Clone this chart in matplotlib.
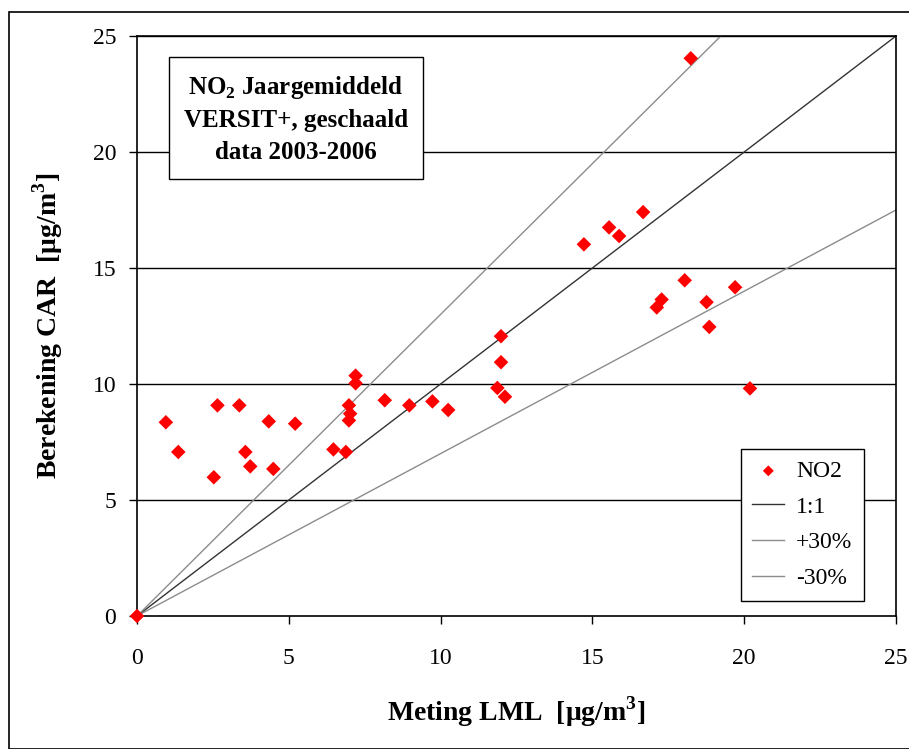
import numpy as np
import matplotlib
matplotlib.use("Agg")
import matplotlib.pyplot as plt
from matplotlib.patches import Rectangle

plt.rcParams["font.family"] = ["Liberation Serif", "DejaVu Serif"]
plt.rcParams["mathtext.fontset"] = "custom"
plt.rcParams["mathtext.rm"] = "Liberation Serif"
plt.rcParams["mathtext.bf"] = "Liberation Serif:bold"

# measured (LML) vs computed (CAR) annual mean NO2, ug/m3
meting = [0.0, 0.95, 1.36, 2.65, 2.53, 3.37, 3.57, 3.73, 4.34, 4.49, 5.21,
          6.47, 6.88, 6.98, 7.02, 6.98, 7.20, 7.20, 8.16, 8.97, 9.73, 10.25,
          11.99, 11.99, 11.87, 12.12, 14.72, 15.55, 15.88, 16.67, 18.24,
          18.04, 17.28, 17.12, 18.76, 19.70, 18.85, 20.19]
berekening = [0.0, 8.35, 7.07, 9.08, 5.98, 9.08, 7.07, 6.45, 8.39, 6.34, 8.29,
              7.18, 7.07, 9.08, 8.72, 8.43, 10.36, 10.03, 9.30, 9.08, 9.25, 8.88,
              12.06, 10.94, 9.83, 9.45, 16.02, 16.75, 16.38, 17.41, 24.04,
              14.47, 13.64, 13.30, 13.53, 14.17, 12.46, 9.81]

ref_x = [0, 25]
factors = {"1:1": 1.0, "+30%": 1.3, "-30%": 0.7}
ticks = [0, 5, 10, 15, 20, 25]

fig = plt.figure(figsize=(9.09, 7.49), dpi=100)
fig.patches.append(Rectangle((9 / 909, 0), 1.0, 1 - 12 / 749, transform=fig.transFigure,
                             fill=False, edgecolor="black", linewidth=1.2))

ax = fig.add_axes([137 / 909, 1 - 616 / 749, (896 - 137) / 909, (616 - 36) / 749])

for y in ticks[1:]:
    ax.axhline(y, color="black", linewidth=1.0, zorder=1)

ax.scatter(meting, berekening, marker="D", s=55, color="red", edgecolors="none",
           zorder=4, label="NO2", clip_on=False)
ax.plot(ref_x, [factors["1:1"] * v for v in ref_x], color="#333333", linewidth=1.0,
        zorder=2, label="1:1")
ax.plot(ref_x, [factors["+30%"] * v for v in ref_x], color="#8c8c8c", linewidth=1.0,
        zorder=2, label="+30%")
ax.plot(ref_x, [factors["-30%"] * v for v in ref_x], color="#8c8c8c", linewidth=1.0,
        zorder=2, label="-30%")

ax.set_xlim(0, 25)
ax.set_ylim(0, 25)
ax.set_xticks(ticks)
ax.set_yticks(ticks)
ax.tick_params(direction="out", length=6, width=1, labelsize=17)
ax.tick_params(axis="x", pad=17)
ax.tick_params(axis="y", pad=9)
for s in ax.spines.values():
    s.set_linewidth(1.2)

ax.set_xlabel("Meting LML  [\u03bcg/m$^\\mathbf{3}$]", fontsize=20, fontweight="bold", labelpad=18)
ax.set_ylabel("Berekening CAR  [\u03bcg/m$^\\mathbf{3}$]", fontsize=20, fontweight="bold", labelpad=20)

ax.text(0.209, 0.857, "NO$_\\mathbf{2}$ Jaargemiddeld\nVERSIT+, geschaald\ndata 2003-2006",
        transform=ax.transAxes, ha="center", va="center", fontsize=18, fontweight="bold",
        linespacing=1.45,
        bbox=dict(boxstyle="square,pad=0.6", facecolor="white", edgecolor="black", linewidth=1.0))

leg = ax.legend(loc="lower right", bbox_to_anchor=(0.958, 0.026), borderaxespad=0,
                fontsize=17, frameon=True, fancybox=False, edgecolor="black", framealpha=1,
                handlelength=1.35, borderpad=0.5, labelspacing=0.6, handletextpad=0.5,
                scatterpoints=1, markerscale=0.75)
leg.get_frame().set_linewidth(1.0)

fig.savefig("out.png", dpi=100)
